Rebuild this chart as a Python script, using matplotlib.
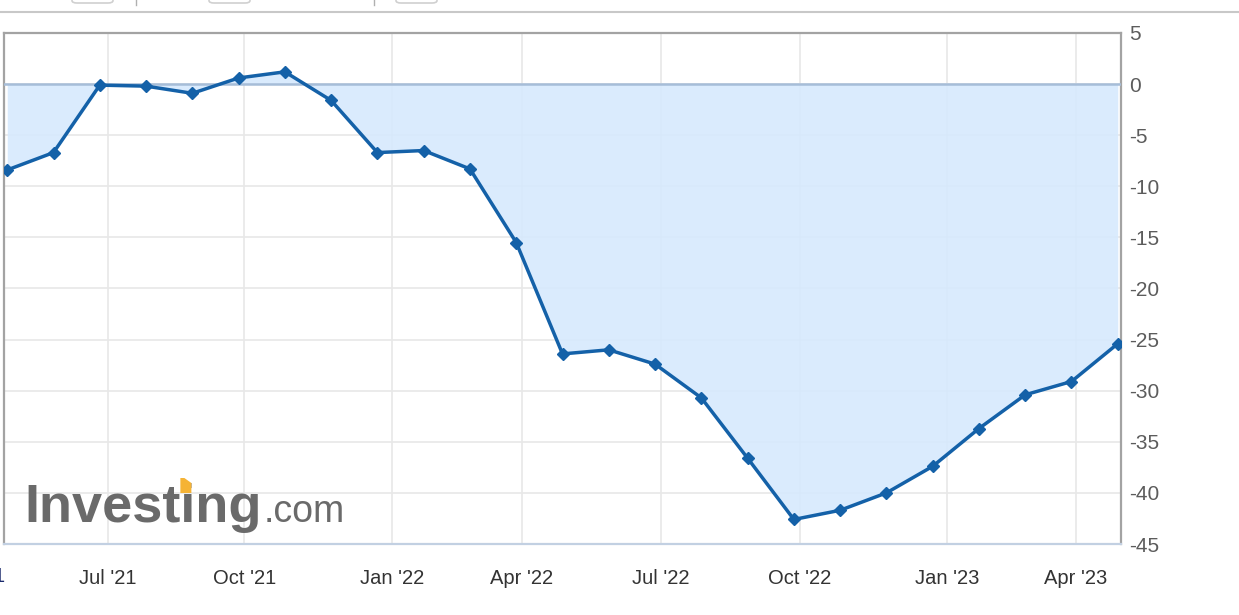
import matplotlib.pyplot as plt
from matplotlib.lines import Line2D
from matplotlib.patches import FancyBboxPatch, Polygon
import numpy as np

# monthly values
values = [-8.4, -6.7, -0.1, -0.2, -0.9, 0.6, 1.2, -1.6, -6.7, -6.5, -8.3,
          -15.5, -26.4, -26.0, -27.4, -30.7, -36.6, -42.6, -41.7, -40.0,
          -37.4, -33.7, -30.4, -29.1, -25.4]
tick_labels = ["Jul '21", "Oct '21", "Jan '22", "Apr '22",
               "Jul '22", "Oct '22", "Jan '23", "Apr '23"]
y_ticks = [5, 0, -5, -10, -15, -20, -25, -30, -35, -40, -45]

W, H = 1239, 615
fig = plt.figure(figsize=(W / 100, H / 100), dpi=100)
ax = fig.add_axes([4 / W, 1 - 544 / H, 1117 / W, 511 / H])

x = np.arange(len(values))
vals = np.array(values)

line_c = "#1461a8"
ax.fill_between(x, vals, 0, color="#d6e9fd", alpha=0.9, zorder=2, lw=0)
ax.axhline(0, color="#a6bdd8", lw=1.8, zorder=3)
ax.plot(x, vals, color=line_c, lw=2.5, marker="D", ms=6, zorder=4,
        solid_joinstyle="round")

ax.set_xlim(-0.07, 24.07)
ax.set_ylim(-45, 5)

# tick positions (in point index units)
tick_pos = [2.18, 5.12, 8.32, 11.12, 14.12, 17.13, 20.32, 23.09]
ax.set_xticks(tick_pos)
ax.set_xticklabels(tick_labels, fontsize=14.5, color="#333333",
                   family="Liberation Sans")
ax.set_yticks(y_ticks)
ax.set_yticklabels([str(v) for v in y_ticks], fontsize=15, color="#5c5c5c",
                   family="Liberation Sans")
ax.yaxis.tick_right()
ax.tick_params(axis="y", length=0, pad=6)
ax.tick_params(axis="x", length=0, pad=18)
ax.grid(True, color="#e8e8e8", lw=1.2, zorder=1)
ax.set_axisbelow(True)

for s in ["left", "top", "right"]:
    ax.spines[s].set_color("#a3a3a3")
    ax.spines[s].set_linewidth(1.6)
ax.spines["bottom"].set_color("#c2d0e2")
ax.spines["bottom"].set_linewidth(1.6)

# cut-off label at the left edge (it is cut in the original too)
fig.text(-26 / W, 1 - 576 / H, "Apr '21", fontsize=14.5, color="#1a2a6c",
         ha="center", va="center", family="Liberation Sans")

# watermark
wm_x, wm_y = 24 / W, 1 - 522 / H
fig.text(wm_x, wm_y, "Investing", fontsize=39, fontweight="bold",
         color="#6a6a6a", family="Liberation Sans", va="baseline", ha="left")
fig.text(264 / W, wm_y, ".com", fontsize=27, color="#6a6a6a",
         family="Liberation Sans", va="baseline", ha="left")

# orange dot on the "i"
r = fig.canvas.get_renderer()
tmp = fig.text(wm_x, wm_y, "Invest", fontsize=39, fontweight="bold",
               family="Liberation Sans", va="baseline", ha="left")
x_i = tmp.get_window_extent(r).x1
tmp.remove()
ipx = x_i
dot_y = 615 * wm_y + 35
fig.add_artist(Polygon([(ipx, dot_y - 6), (ipx + 11, dot_y - 6),
                        (ipx + 11, dot_y + 4), (ipx + 4, dot_y + 9),
                        (ipx, dot_y + 9)], closed=True, transform=None,
                       fc="#f5b335", ec="none", zorder=10))

# toolbar remnants at the top
fig.add_artist(Line2D([0, 1], [1 - 12 / H] * 2, color="#c8c8c8", lw=1.5))
for bx in [72, 209, 396]:
    fig.add_artist(FancyBboxPatch((bx / W, 1 - 3 / H), 41 / W, 12 / H,
                                  boxstyle="round,pad=0,rounding_size=0.004",
                                  fc="white", ec="#d0d0d0", lw=1.2))
for tx in [136, 374]:
    fig.add_artist(Line2D([tx / W] * 2, [1, 1 - 5 / H], color="#b0b0b0", lw=1))

fig.savefig("out.png", dpi=100, facecolor="white")
